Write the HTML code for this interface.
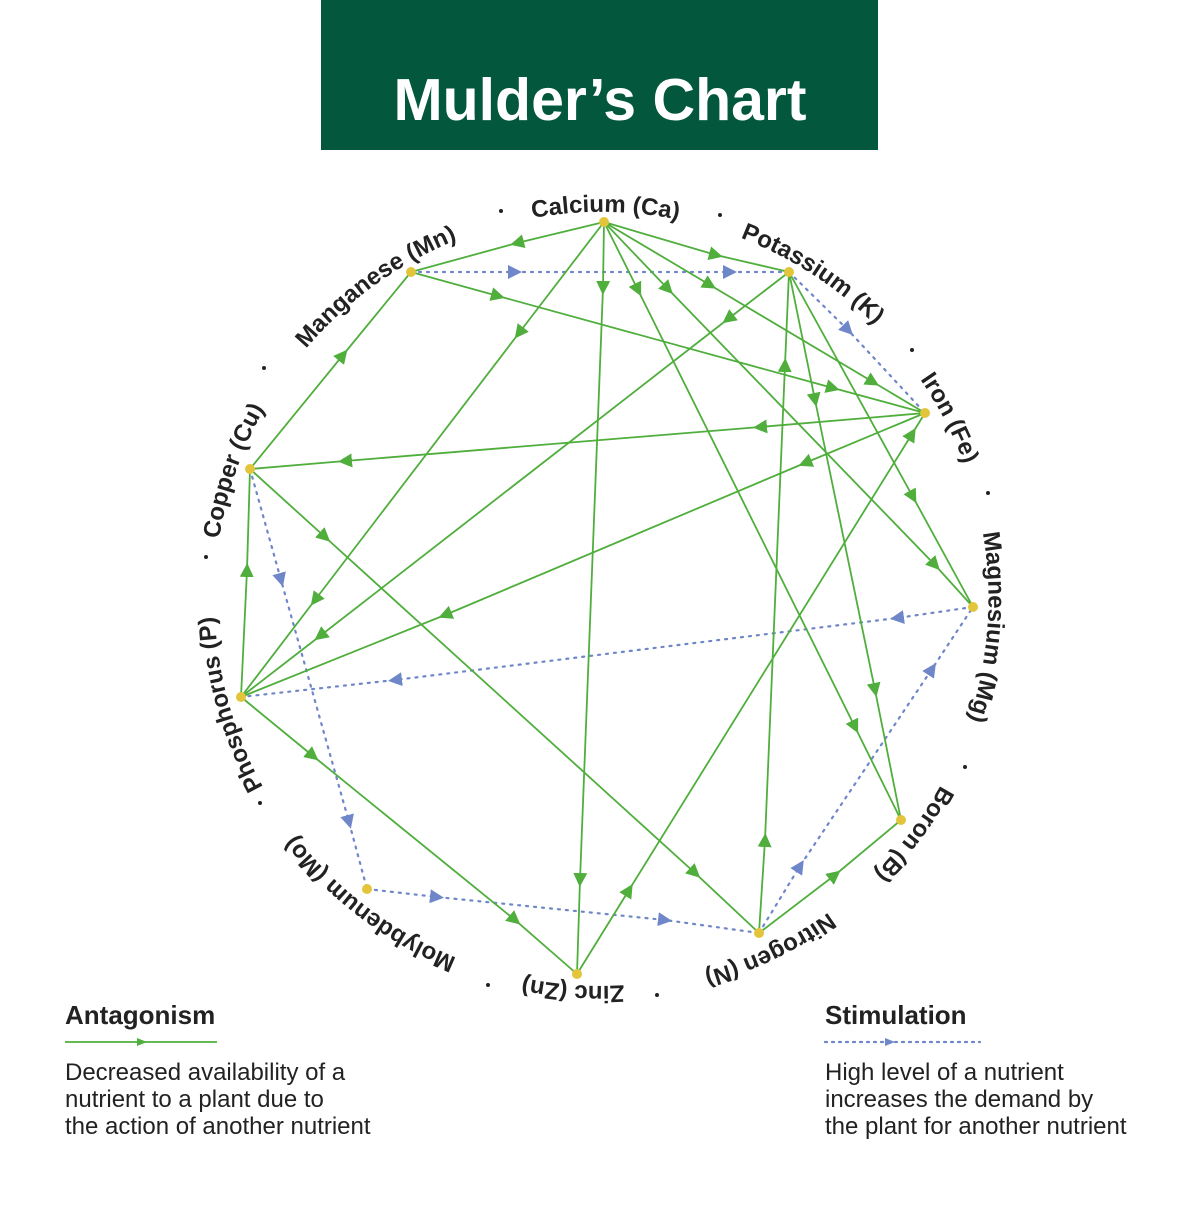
<!DOCTYPE html>
<html><head><meta charset="utf-8"><style>
body{margin:0;background:#fff;width:1200px;height:1200px;overflow:hidden;font-family:"Liberation Sans",sans-serif}
</style></head><body>
<svg width="1200" height="1200" xmlns="http://www.w3.org/2000/svg">
<defs>
<marker id="g" viewBox="0 0 10 10" refX="5" refY="5" markerWidth="14" markerHeight="14" markerUnits="userSpaceOnUse" orient="auto"><path d="M0,0 L10,5 L0,10 z" fill="#4fae3c"/></marker>
<marker id="b" viewBox="0 0 10 10" refX="5" refY="5" markerWidth="14" markerHeight="14" markerUnits="userSpaceOnUse" orient="auto"><path d="M0,0 L10,5 L0,10 z" fill="#6f86c8"/></marker>
<path id="arc" d="M667.5,980.2 A387,387 0 1 1 546.5,215.8 A387,387 0 0 1 667.5,980.2" fill="none"/>
</defs>
<rect x="321" y="0" width="557" height="150" fill="#03573c"/>
<text x="600" y="120" text-anchor="middle" font-size="59" font-weight="bold" fill="#fff">Mulder’s Chart</text>

<g fill="none" stroke="#6f86c8" stroke-width="2.2" stroke-dasharray="2,6" stroke-linecap="round" marker-mid="url(#b)">
<polyline points="411,272 515,272 730,272 789,272"/>
<polyline points="789,272 848,330 925,413"/>
<polyline points="973,607 897,618 395,680 241,697"/>
<polyline points="759,933 800,866 932,669 973,607"/>
<polyline points="250,469 281,580 349,822 367,889"/>
<polyline points="367,889 437,897 665,920 759,933"/>
</g>

<g fill="none" stroke="#4fae3c" stroke-width="1.8" marker-mid="url(#g)">
<polyline points="604,222 517,243 411,272"/>
<polyline points="604,222 716,255 789,272"/>
<polyline points="604,222 603,288 580,880 577,974"/>
<polyline points="604,222 519,333 315,600 241,697"/>
<polyline points="604,222 710,285 873,382 925,413"/>
<polyline points="604,222 668,289 935,565 973,607"/>
<polyline points="604,222 638,290 855,727 901,820"/>
<polyline points="411,272 498,296 833,388 925,413"/>
<polyline points="789,272 728,319 320,636 241,697"/>
<polyline points="759,933 765,840 785,365 789,272"/>
<polyline points="789,272 815,400 875,690 901,820"/>
<polyline points="925,413 760,427 345,461 250,469"/>
<polyline points="925,413 805,463 445,615 241,697"/>
<polyline points="577,974 629,890 912,434 925,413"/>
<polyline points="789,272 913,497 973,607"/>
<polyline points="759,933 835,875 901,820"/>
<polyline points="250,469 325,537 695,873 759,933"/>
<polyline points="250,469 343,355 411,272"/>
<polyline points="241,697 247,570 250,469"/>
<polyline points="241,697 313,756 515,920 577,974"/>
</g>

<g fill="#e2c53a">
<circle cx="604" cy="222" r="5"/><circle cx="789" cy="272" r="5"/><circle cx="925" cy="413" r="5"/>
<circle cx="973" cy="607" r="5"/><circle cx="901" cy="820" r="5"/><circle cx="759" cy="933" r="5"/>
<circle cx="577" cy="974" r="5"/><circle cx="367" cy="889" r="5"/><circle cx="241" cy="697" r="5"/>
<circle cx="250" cy="469" r="5"/><circle cx="411" cy="272" r="5"/>
</g>

<g font-size="24" font-weight="bold" fill="#222" text-anchor="middle">
<text><textPath href="#arc" startOffset="52.9%">Calcium (Ca)</textPath></text>
<text><textPath href="#arc" startOffset="61.9%">Potassium (K)</textPath></text>
<text><textPath href="#arc" startOffset="70.1%">Iron (Fe)</textPath></text>
<text><textPath href="#arc" startOffset="78.9%">Magnesium (Mg)</textPath></text>
<text><textPath href="#arc" startOffset="88.0%">Boron (B)</textPath></text>
<text><textPath href="#arc" startOffset="95.6%">Nitrogen (N)</textPath></text>
<text><textPath href="#arc" startOffset="3.89%">Zinc (Zn)</textPath></text>
<text><textPath href="#arc" startOffset="13.06%">Molybdenum (Mo)</textPath></text>
<text><textPath href="#arc" startOffset="23.33%">Phosphorus (P)</textPath></text>
<text><textPath href="#arc" startOffset="33.06%">Copper (Cu)</textPath></text>
<text><textPath href="#arc" startOffset="42.78%">Manganese (Mn)</textPath></text>
</g>
<g fill="#222">
<circle cx="501" cy="211" r="2"/><circle cx="720" cy="215" r="2"/><circle cx="912" cy="350" r="2"/>
<circle cx="988" cy="493" r="2"/><circle cx="965" cy="767" r="2"/><circle cx="657" cy="995" r="2"/>
<circle cx="488" cy="985" r="2"/><circle cx="260" cy="803" r="2"/><circle cx="206" cy="557" r="2"/>
<circle cx="264" cy="368" r="2"/>
</g>

<text x="65" y="1024" font-size="26" font-weight="bold" fill="#222">Antagonism</text>
<line x1="65" y1="1042" x2="217" y2="1042" stroke="#4fae3c" stroke-width="1.8"/>
<path d="M137,1038 L147,1042 L137,1046z" fill="#4fae3c"/>
<g font-size="24" fill="#222">
<text x="65" y="1080">Decreased availability of a</text>
<text x="65" y="1107">nutrient to a plant due to</text>
<text x="65" y="1134">the action of another nutrient</text>
</g>
<text x="825" y="1024" font-size="26" font-weight="bold" fill="#222">Stimulation</text>
<line x1="825" y1="1042" x2="980" y2="1042" stroke="#6f86c8" stroke-width="2.2" stroke-dasharray="2,5" stroke-linecap="round"/>
<path d="M885,1038 L895,1042 L885,1046z" fill="#6f86c8"/>
<g font-size="24" fill="#222">
<text x="825" y="1080">High level of a nutrient</text>
<text x="825" y="1107">increases the demand by</text>
<text x="825" y="1134">the plant for another nutrient</text>
</g>
</svg>
</body></html>
